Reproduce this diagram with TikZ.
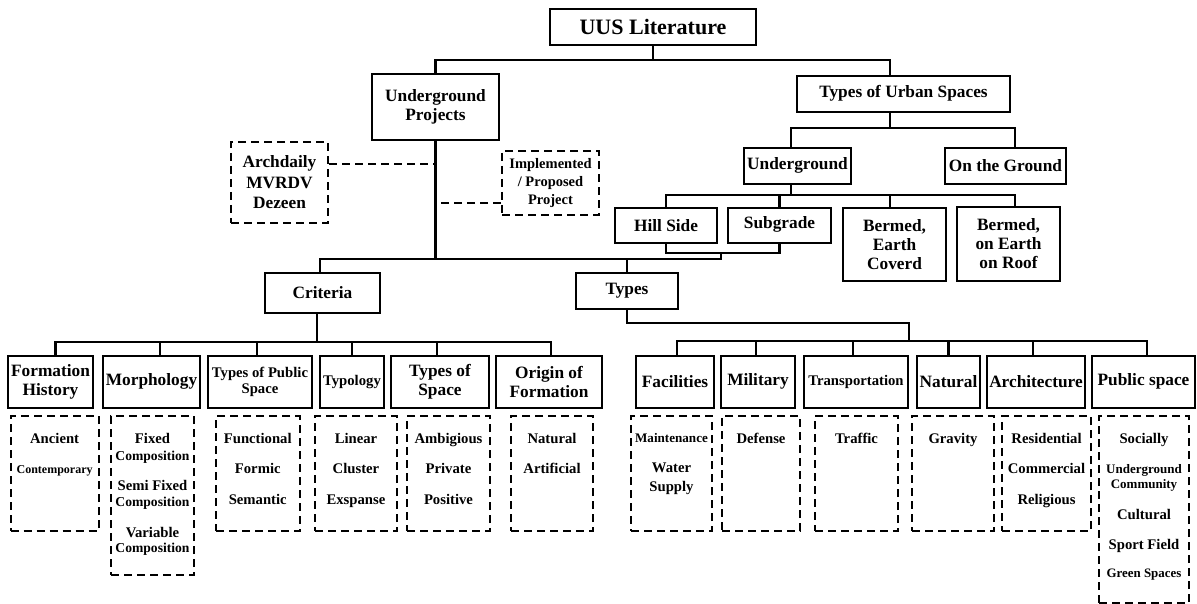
\documentclass[tikz,border=0pt]{standalone}
\usepackage{fontspec}
\setmainfont{Liberation Serif}
\usetikzlibrary{calc}
\newcommand{\lst}[3]{\parbox[t][#2][t]{#1}{\centering\vspace*{17pt}#3}}
\newcommand{\sz}[1]{\fontsize{#1}{30.5}\selectfont}

\begin{document}
\begin{tikzpicture}[x=1pt,y=-1pt,
  box/.style={draw, line width=2.4pt, align=center, inner sep=0pt, font=\bfseries\fontsize{17.3}{19}\selectfont},
  smallbox/.style={box, font=\bfseries\fontsize{14.7}{16}\selectfont},
  oneline/.style={text height=0.68em, text depth=0.05em},
  conn/.style={line width=2.4pt},
  lbox/.style={draw, line width=2pt, dash pattern=on 8pt off 5pt, inner sep=0pt, anchor=north west, font=\bfseries\fontsize{14.7}{30.5}\selectfont},
  dconn/.style={line width=2pt, dash pattern=on 8pt off 5pt}]
			%%%%% START %%%%%
			\useasboundingbox (0,0) rectangle (1197,604);
			
			\node[box, minimum width=206, minimum height=36, font=\bfseries\fontsize{22}{24}\selectfont] (uus) at (653,27) {UUS Literature};
			\node[box, minimum width=127, minimum height=66] (upro) at (435.5,107) {Underground\\Projects};
			\node[box, oneline, minimum width=213, minimum height=36] (tus) at (903.5,94) {Types of Urban Spaces};
			\node[box, oneline, minimum width=107, minimum height=36] (ug) at (797.5,166) {Underground};
			\node[box, minimum width=121, minimum height=36] (otg) at (1005.5,166) {On the Ground};
			\node[box, minimum width=102, minimum height=35] (hill) at (666,225.5) {Hill Side};
			\node[box, oneline, minimum width=103, minimum height=35] (subg) at (779.5,225.5) {Subgrade};
			\node[box, minimum width=103, minimum height=73] (bec) at (894.5,244.5) {Bermed,\\Earth\\Coverd};
			\node[box, minimum width=103, minimum height=74] (beer) at (1008.5,244) {Bermed,\\on Earth\\on Roof};
			\node[box, minimum width=115, minimum height=40] (crit) at (322.5,293) {Criteria};
			\node[box, oneline, minimum width=102, minimum height=36] (types) at (627,291) {Types};
			
			\node[lbox, anchor=center, minimum width=97, minimum height=81, align=center, font=\bfseries\fontsize{17.3}{20.5}\selectfont] (src) at (279.5,182.5) {Archdaily\\MVRDV\\Dezeen};
			\node[lbox, anchor=center, minimum width=97, minimum height=64, align=center, font=\bfseries\fontsize{14.5}{17.7}\selectfont] (impl) at (550.5,183) {Implemented\\/ Proposed\\Project};
			
			\node[box, minimum width=85, minimum height=52] (fh) at (50.5,382) {Formation\\History};
			\node[box, oneline, minimum width=97, minimum height=52] (morph) at (151.5,382) {Morphology};
			\node[smallbox, minimum width=104, minimum height=52] (tps) at (260,382) {Types of Public\\Space};
			\node[smallbox, oneline, minimum width=64, minimum height=52] (typo) at (352,382) {Typology};
			\node[box, minimum width=98, minimum height=52] (tos) at (440,382) {Types of\\Space};
			\node[box, minimum width=106, minimum height=52] (oof) at (549,382) {Origin of\\Formation};
			\node[box, minimum width=78, minimum height=52] (fac) at (675,382) {Facilities};
			\node[box, oneline, minimum width=74, minimum height=52] (mil) at (758,382) {Military};
			\node[smallbox, oneline, minimum width=104, minimum height=52] (trans) at (856,382) {Transportation};
			\node[box, minimum width=63, minimum height=52] (nat) at (948.5,382) {Natural};
			\node[box, minimum width=98, minimum height=52] (archi) at (1036,382) {Architecture};
			\node[box, oneline, minimum width=103, minimum height=52] (pub) at (1143.5,382) {Public space};
			
			\node[lbox] (fhl) at (9.6,415) {\lst{88pt}{115pt}{Ancient\\{\sz{12}Contemporary}}};
			\node[lbox] (morl) at (110,415) {\lst{83pt}{159pt}{Fixed\\[-13pt]{\sz{13.6}Composition}\\[-1pt]Semi Fixed\\[-14pt]{\sz{13.6}Composition}\\Variable\\[-15pt]{\sz{13.6}Composition}}};
			\node[lbox] (tpsl) at (215,415) {\lst{83.5pt}{115pt}{Functional\\Formic\\Semantic}};
			\node[lbox] (typl) at (314,415) {\lst{82pt}{115pt}{Linear\\Cluster\\Exspanse}};
			\node[lbox] (tosl) at (406,415) {\lst{83pt}{115pt}{Ambigious\\Private\\Positive}};
			\node[lbox] (oofl) at (510,415) {\lst{82pt}{115pt}{Natural\\Artificial}};
			\node[lbox] (facl) at (630,415) {\lst{81pt}{115pt}{{\sz{13.1}Maintenance}\\Water\\[-11.5pt]Supply}};
			\node[lbox] (mill) at (721,415) {\lst{78pt}{115pt}{Defense}};
			\node[lbox] (trl) at (814,415) {\lst{83pt}{115pt}{Traffic}};
			\node[lbox] (natl) at (911,415) {\lst{82pt}{115pt}{Gravity}};
			\node[lbox] (arcl) at (1001,415) {\lst{89pt}{115pt}{Residential\\Commercial\\Religious}};
			\node[lbox] (publ) at (1098,415) {\lst{90pt}{187pt}{Socially\\{\sz{13}Underground}\\[-15.5pt]{\sz{13}Community}\\Cultural\\Sport Field\\[-2.5pt]{\sz{12.9}Green Spaces}}};
			
			\coordinate (j1) at (653,60);
			\draw[conn] (uus.south) -- (j1);
			\draw[conn] (upro.north) |- (j1) -| ([xshift=-13.5]tus.north);
			
			\coordinate (j2) at (890,128);
			\draw[conn] ([xshift=-13.5]tus.south) -- (j2);
			\draw[conn] ([xshift=-6.5]ug.north) |- (j2) -| ([xshift=9.5]otg.north);
			
			\coordinate (j3) at (791,195);
			\draw[conn] ([xshift=-6.5]ug.south) -- (j3);
			\draw[conn] (hill.north) |- (j3) -| ([xshift=6.5]beer.north);
			\draw[conn] (subg.north) -- (subg.north |- j3);
			\draw[conn] ([xshift=-4.5]bec.north) -- ([xshift=-4.5]bec.north |- j3);
			
			\coordinate (j4) at (721,253);
			\draw[conn] (hill.south) |- (subg.south |- j4) -- (subg.south);
			
			\coordinate (j5) at (437,259);
			\draw[conn] (upro.south) -- (upro.south |- j5);
			\draw[conn] ([xshift=-2.5]crit.north) |- (j4 |- j5) -- (j4);
			\draw[conn] (types.north) -- (types.north |- j5);
			
			\draw[dconn] ([yshift=18.5]src.east) -- ([yshift=18.5]src.east -| upro.south);
			\draw[dconn] ([yshift=-20]impl.west) -- ([yshift=-20]impl.west -| upro.south);
			
			\coordinate (j6) at (317,342);
			\draw[conn] ([xshift=-5.5]crit.south) -- (j6);
			\draw[conn] ([xshift=5]fh.north) |- (j6) -| ([xshift=2]oof.north);
			\foreach \n/\s in {morph/8.5, tps/-3, typo/0, tos/-3}
				\draw[conn] ([xshift=\s]\n.north) -- ([xshift=\s]\n.north |- j6);
			
			\coordinate (j7) at (909,341);
			\draw[conn] (types.south) |- ([yshift=18]j7) -- (j7);
			\draw[conn] ([xshift=2]fac.north) |- (j7) -| ([xshift=3.5]pub.north);
			\foreach \n/\s in {mil/-2, trans/-3, nat/0, archi/-3}
				\draw[conn] ([xshift=\s]\n.north) -- ([xshift=\s]\n.north |- j7);
			%%%%% END %%%%%
\end{tikzpicture}
\end{document}
